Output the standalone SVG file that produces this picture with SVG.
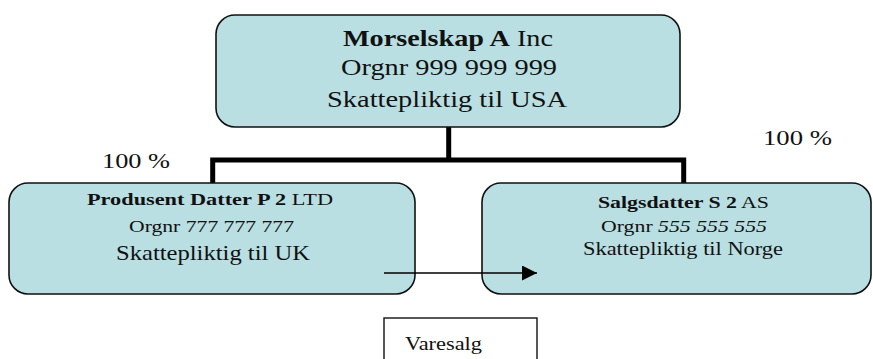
<svg xmlns="http://www.w3.org/2000/svg" width="873" height="359" viewBox="0 0 873 359" font-family="'Liberation Serif', 'DejaVu Serif', serif">
  <style>
    .box { fill: #b9dfe3; stroke: #111; stroke-width: 1.6; }
    .lbl { fill: #fff; stroke: #111; stroke-width: 1.4; }
    .org { fill: none; stroke: #000; stroke-width: 5; stroke-linecap: butt; stroke-linejoin: miter; }
    .arr { fill: none; stroke: #000; stroke-width: 1.6; }
    text { font-family: "Liberation Serif", "DejaVu Serif", serif; fill: #111; }
    .b { font-weight: bold; }
    .i { font-style: italic; }
  </style>
  <defs>
    <marker id="ah" viewBox="0 0 15 15" refX="15" refY="7.5" markerWidth="15" markerHeight="15" markerUnits="userSpaceOnUse" orient="auto">
      <path d="M0,0 L15,7.5 L0,15 Z" fill="#000"/>
    </marker>
  </defs>
  <rect width="873" height="359" fill="#fff"/>

  <g id="connectors">
    <path class="org" d="M448.7,127 V160 M212.7,183 V160 H683.7 V183"/>
  </g>

  <g id="morselskap">
    <rect class="box" x="216" y="15" width="464" height="112" rx="19" ry="19"/>
    <text x="343" y="46" font-size="24" textLength="210" lengthAdjust="spacingAndGlyphs"><tspan class="b">Morselskap A</tspan> Inc</text>
    <text x="341" y="75" font-size="24" textLength="216" lengthAdjust="spacingAndGlyphs">Orgnr 999 999 999</text>
    <text x="327" y="107" font-size="24" textLength="240" lengthAdjust="spacingAndGlyphs">Skattepliktig til USA</text>
  </g>

  <g id="pct-left">
    <text x="102" y="168" font-size="20" textLength="68" lengthAdjust="spacingAndGlyphs">100 %</text>
  </g>
  <g id="pct-right">
    <text x="763" y="145" font-size="20" textLength="69" lengthAdjust="spacingAndGlyphs">100 %</text>
  </g>

  <g id="produsent">
    <rect class="box" x="9" y="183" width="406" height="111" rx="19" ry="19"/>
    <text x="87" y="205" font-size="17" textLength="246" lengthAdjust="spacingAndGlyphs"><tspan class="b">Produsent Datter P 2</tspan> LTD</text>
    <text x="129" y="232" font-size="17" textLength="165" lengthAdjust="spacingAndGlyphs">Orgnr 777 777 777</text>
    <text x="116" y="260" font-size="21" textLength="194" lengthAdjust="spacingAndGlyphs">Skattepliktig til UK</text>
  </g>

  <g id="salgsdatter">
    <rect class="box" x="482" y="183" width="389" height="111" rx="19" ry="19"/>
    <text x="598" y="208" font-size="17" textLength="171" lengthAdjust="spacingAndGlyphs"><tspan class="b">Salgsdatter S 2</tspan> AS</text>
    <text x="601" y="232" font-size="17" textLength="166" lengthAdjust="spacingAndGlyphs">Orgnr <tspan class="i">555 555 555</tspan></text>
    <text x="583" y="255" font-size="18" textLength="200" lengthAdjust="spacingAndGlyphs">Skattepliktig til Norge</text>
  </g>

  <g id="arrow">
    <line class="arr" x1="384" y1="273" x2="537" y2="273" marker-end="url(#ah)"/>
  </g>

  <g id="varesalg">
    <rect class="lbl" x="384" y="318" width="153" height="60"/>
    <text x="405" y="350" font-size="19" textLength="77" lengthAdjust="spacingAndGlyphs">Varesalg</text>
  </g>
</svg>
